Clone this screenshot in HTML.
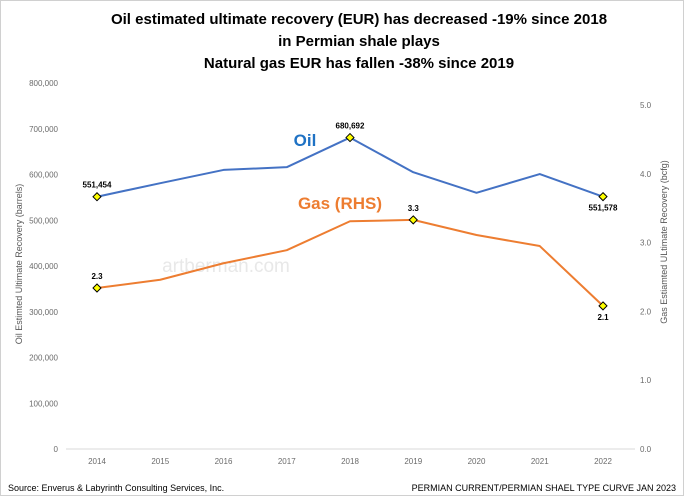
<!DOCTYPE html>
<html><head><meta charset="utf-8"><style>
html,body{margin:0;padding:0;background:#fff;}
svg{display:block;font-family:"Liberation Sans",Arial,sans-serif;}
</style></head><body>
<svg id="chart" width="684" height="496" viewBox="0 0 684 496">
<rect x="0.5" y="0.5" width="683" height="495" fill="#fff" stroke="#d0d0d0"/>
<g font-weight="bold" font-size="15" text-anchor="middle" fill="#000">
<text x="359" y="24">Oil estimated ultimate recovery (EUR) has decreased -19% since 2018</text>
<text x="359" y="46">in Permian shale plays</text>
<text x="359" y="68">Natural gas EUR has fallen -38% since 2019</text>
</g>
<text x="226" y="272" font-size="19" fill="#e8e8e8" text-anchor="middle">artberman.com</text>
<g id="axes"></g>
<g id="series"></g>
<text x="305" y="146" font-size="17" font-weight="bold" fill="#1f72c4" text-anchor="middle">Oil</text>
<text x="340" y="209" font-size="17" font-weight="bold" fill="#ed7d31" text-anchor="middle">Gas (RHS)</text>
<text x="22" y="264" font-size="9" fill="#595959" text-anchor="middle" transform="rotate(-90 22 264)">Oil Estimted Ultimate Recovery (barrels)</text>
<text x="667" y="242" font-size="9" fill="#595959" text-anchor="middle" transform="rotate(-90 667 242)">Gas Estiamted ULtimate Recovery (bcfg)</text>
<text x="8" y="491" font-size="9" fill="#000">Source:  Enverus &amp; Labyrinth Consulting Services, Inc.</text>
<text x="676" y="491" font-size="9" fill="#000" text-anchor="end">PERMIAN CURRENT/PERMIAN SHAEL TYPE CURVE JAN 2023</text>
</svg>
<script>
const years = [2014,2015,2016,2017,2018,2019,2020,2021,2022];
const oilValues = [551454,581000,610000,616000,680692,605000,560000,601000,551578];
const gasValues = [2.34,2.46,2.70,2.89,3.31,3.33,3.11,2.95,2.08];
const leftTicks = [0,100000,200000,300000,400000,500000,600000,700000,800000];
const rightTicks = [0,1,2,3,4,5];
const oilLabels = [[0,"551,454"],[4,"680,692"],[8,"551,578"]];
const gasLabels = [[0,"2.3"],[5,"3.3"],[8,"2.1"]];

const NS="http://www.w3.org/2000/svg";
const y0=449, x0=97, dx=(603-97)/(years.length-1);
const xs=i=>x0+i*dx;
const yL=v=>y0-v*(449-83)/800000;
const yR=v=>y0-v*(449-105)/5;
function mk(tag,attrs,parent){const e=document.createElementNS(NS,tag);for(const k in attrs)e.setAttribute(k,attrs[k]);parent.appendChild(e);return e;}
const axes=document.getElementById('axes'), ser=document.getElementById('series');
let l=mk('line',{x1:66,x2:635,y1:y0,y2:y0,stroke:'#d9d9d9','stroke-width':1},axes);


leftTicks.forEach(v=>{const t=mk('text',{x:58,y:yL(v)+3,'font-size':8,fill:'#6b6b6b','text-anchor':'end'},axes);t.textContent=v.toLocaleString('en-US');

});
rightTicks.forEach(v=>{const t=mk('text',{x:640,y:yR(v)+3,'font-size':8,fill:'#6b6b6b'},axes);t.textContent=v.toFixed(1);

});
years.forEach((yr,i)=>{const t=mk('text',{x:xs(i),y:y0+15,'font-size':8,fill:'#6b6b6b','text-anchor':'middle'},axes);t.textContent=yr;

});
function line(vals,f,color,name){const p=mk('polyline',{points:vals.map((v,i)=>xs(i)+','+f(v)).join(' '),fill:'none',stroke:color,'stroke-width':2,'stroke-linejoin':'round'},ser);

}
line(oilValues,yL,'#4472c4','oil-line');
line(gasValues,yR,'#ed7d31','gas-line');
function marks(labels,vals,f,name){labels.forEach(([i,txt])=>{const x=xs(i),y=f(vals[i]);
const m=mk('polygon',{points:`${x},${y-4} ${x+4},${y} ${x},${y+4} ${x-4},${y}`,fill:'#ffff00',stroke:'#000','stroke-width':1},ser);


const d=(i===8)?14:-9;
const t=mk('text',{x:x,y:y+d,'font-size':8,'font-weight':'bold',fill:'#000','text-anchor':'middle'},ser);t.textContent=txt;

});}
marks(oilLabels,oilValues,yL,'oil');
marks(gasLabels,gasValues,yR,'gas');
</script>
</body></html>
